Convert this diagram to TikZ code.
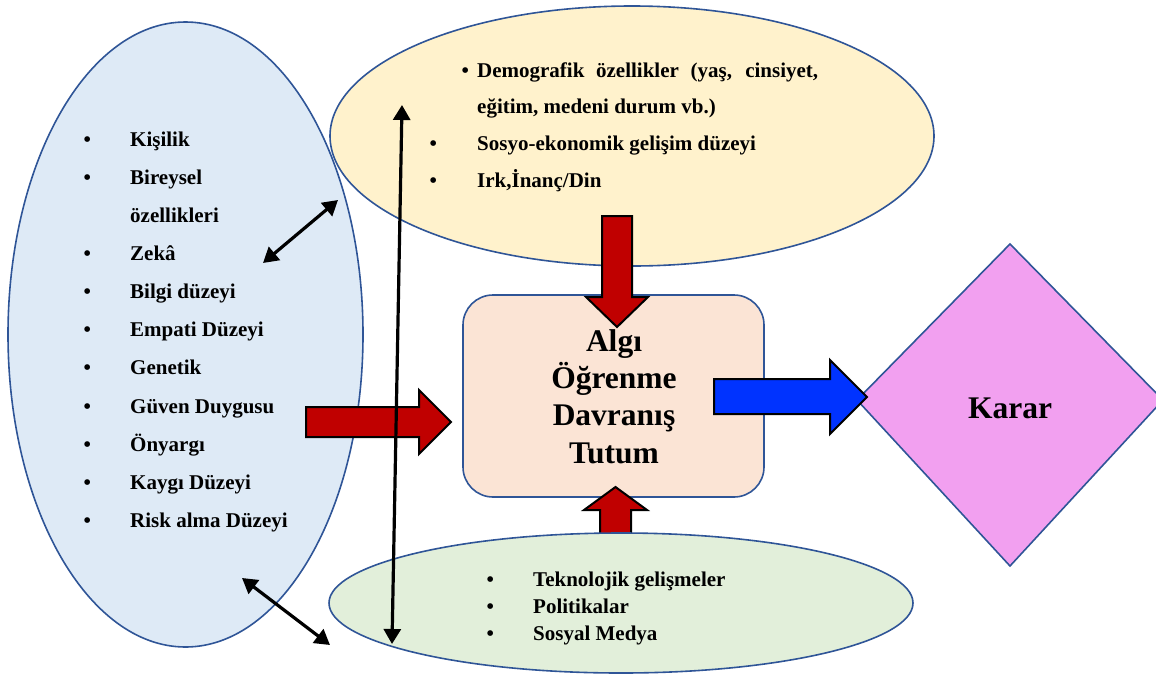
\documentclass[tikz,border=0pt]{standalone}
\usepackage{fontspec}
\setmainfont{Liberation Serif}
\usetikzlibrary{shapes.geometric,arrows.meta}
\definecolor{edge}{RGB}{47,85,151}
\definecolor{blueell}{RGB}{222,234,246}
\definecolor{yellowell}{RGB}{255,242,204}
\definecolor{greenell}{RGB}{226,239,218}
\definecolor{boxfill}{RGB}{251,228,213}
\definecolor{pinkfill}{RGB}{242,160,240}
\definecolor{redarrow}{RGB}{192,0,0}
\definecolor{bluearrow}{RGB}{0,51,255}
\begin{document}
\begin{tikzpicture}[x=1pt,y=-1pt,
  ell/.style={ellipse, draw=edge, line width=1.6pt, inner sep=0pt},
  blockarrow/.style={draw=black, line width=2pt, line join=miter},
  item/.style={anchor=base west, inner sep=0pt, font=\bfseries\fontsize{21}{25}\selectfont},
  bigtxt/.style={anchor=base, inner sep=0pt, font=\bfseries\fontsize{31.5}{37}\selectfont},
  dbl/.style={line width=3.2pt, {Triangle[length=15pt,width=17pt]}-{Triangle[length=15pt,width=17pt]}}
]
\useasboundingbox (0,0) rectangle (1156,675);

% ellipses and shapes
\node[ell, fill=blueell, minimum width=355pt, minimum height=625pt] (blue) at (185.5,334.5) {};
\node[ell, fill=yellowell, minimum width=604pt, minimum height=260pt] (yellow) at (632,136) {};
\node[draw=edge, line width=1.6pt, fill=boxfill, rounded corners=30pt, minimum width=301pt, minimum height=202pt, inner sep=0pt] (box) at (613.5,396) {};

% bottom red arrow (behind green ellipse)
\draw[blockarrow, fill=redarrow] (600,545) -- (600,510) -- (584,510) -- (615.5,487) -- (647,510) -- (631,510) -- (631,545) -- cycle;
\node[ell, fill=greenell, minimum width=584pt, minimum height=140pt] (green) at (621,603) {};

% diamond
\coordinate (dt) at (1010,244);
\coordinate (dr) at (1163,400);
\coordinate (db) at (1010,566);
\coordinate (dl) at (857,400);
\draw[draw=edge, line width=1.6pt, fill=pinkfill] (dt) -- (dr) -- (db) -- (dl) -- cycle;

% block arrows
\draw[blockarrow, fill=redarrow] (306,407) -- (419,407) -- (419,390) -- (451,422) -- (419,454) -- (419,437) -- (306,437) -- cycle;
\draw[blockarrow, fill=redarrow] (602,216) -- (632,216) -- (632,297) -- (648,297) -- (617,327) -- (586,297) -- (602,297) -- cycle;
\draw[blockarrow, fill=bluearrow] (714,379) -- (830,379) -- (830,360) -- (867,397) -- (830,434) -- (830,414) -- (714,414) -- cycle;

% blue ellipse items
\node[item] (b1) at (83.3,146) {\makebox[46.7pt][l]{\textbullet}Kişilik};
\node[item] (b2) at (83.3,184) {\makebox[46.7pt][l]{\textbullet}Bireysel};
\node[item] (b3) at (130,222) {özellikleri};
\node[item] (b4) at (83.3,260) {\makebox[46.7pt][l]{\textbullet}Zekâ};
\node[item] (b5) at (83.3,298) {\makebox[46.7pt][l]{\textbullet}Bilgi düzeyi};
\node[item] (b6) at (83.3,336) {\makebox[46.7pt][l]{\textbullet}Empati Düzeyi};
\node[item] (b7) at (83.3,374) {\makebox[46.7pt][l]{\textbullet}Genetik};
\node[item] (b8) at (83.3,413) {\makebox[46.7pt][l]{\textbullet}Güven Duygusu};
\node[item] (b9) at (83.3,451) {\makebox[46.7pt][l]{\textbullet}Önyargı};
\node[item] (b10) at (83.3,489) {\makebox[46.7pt][l]{\textbullet}Kaygı Düzeyi};
\node[item] (b11) at (83.3,527) {\makebox[46.7pt][l]{\textbullet}Risk alma Düzeyi};

% yellow ellipse items
\node[item] (y1) at (461.3,77) {\makebox[15.7pt][l]{\textbullet}\makebox[341pt][s]{Demografik özellikler (yaş, cinsiyet,}};
\node[item] (y2) at (477,113) {eğitim, medeni durum vb.)};
\node[item] (y3) at (429.3,150) {\makebox[47.7pt][l]{\textbullet}Sosyo-ekonomik gelişim düzeyi};
\node[item] (y4) at (429.3,187) {\makebox[47.7pt][l]{\textbullet}Irk,İnanç/Din};

% green ellipse items
\node[item] (g1) at (486.3,586) {\makebox[46.7pt][l]{\textbullet}Teknolojik gelişmeler};
\node[item] (g2) at (486.3,613) {\makebox[46.7pt][l]{\textbullet}Politikalar};
\node[item] (g3) at (486.3,640) {\makebox[46.7pt][l]{\textbullet}Sosyal Medya};

% central text
\node[bigtxt] (c1) at (614,351) {Algı};
\node[bigtxt] (c2) at (614,388) {Öğrenme};
\node[bigtxt] (c3) at (614,425) {Davranış};
\node[bigtxt] (c4) at (614,463) {Tutum};
\node[bigtxt] (karar) at (1010,418) {Karar};

% double-headed black arrows
\coordinate (p1) at (263,263);
\coordinate (p2) at (338,200);
\coordinate (p3) at (402,105);
\coordinate (p4) at (392,644);
\coordinate (p5) at (242,578);
\coordinate (p6) at (330,645);
\draw[dbl] (p1) -- (p2);
\draw[dbl] (p3) -- (p4);
\draw[dbl] (p5) -- (p6);
\end{tikzpicture}
\end{document}
